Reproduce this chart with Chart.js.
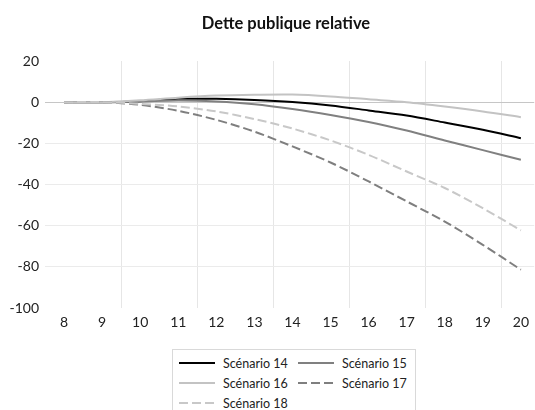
<!DOCTYPE html>
<html>
<head>
<meta charset="utf-8">
<script src="https://cdn.jsdelivr.net/npm/chart.js@4.4.1/dist/chart.umd.min.js"></script>
<style>
    html, body { margin: 0; padding: 0; background: #fff; overflow: hidden; }
    #wrap { position: relative; width: 535px; height: 410px; }
    #legend {
        position: absolute; left: 172px; top: 349px; width: 236px; height: 80px;
        border: 1px solid #d9d9d9; padding: 3px 0 0 6px;
        display: grid; grid-template-columns: 119px 117px; grid-auto-rows: 20px;
        font-family: Lato, sans-serif; font-size: 12.5px; color: #222;
    }
    .item { display: flex; align-items: center; white-space: nowrap; }
    .item svg { margin-right: 8px; }
</style>
</head>
<body>
<div id="wrap">
    <canvas id="debtChart" width="535" height="345"></canvas>
    <div id="legend"></div>
</div>
<script>
// Years on the x axis (8 = 2008 ... 20 = 2020)
const years = [8, 9, 10, 11, 12, 13, 14, 15, 16, 17, 18, 19, 20];
const yTicks = [20, 0, -20, -40, -60, -80, -100];

// Relative public debt per scenario
const scenario14 = [0, 0, 0.5, 1.6, 1.6, 1.1, 0.1, -1.6, -4.0, -6.5, -9.9, -13.4, -17.5];
const scenario15 = [0, 0, 0.3, 0.8, 0.3, -1.0, -3.3, -6.2, -9.6, -13.8, -18.6, -23.3, -28.0];
const scenario16 = [0, 0, 0.9, 2.2, 3.2, 3.6, 3.7, 2.8, 1.4, 0.0, -2.1, -4.5, -7.3];
const scenario17 = [0, 0, -1.3, -4.2, -8.6, -14.3, -21.5, -29.3, -38.5, -48.2, -58.0, -69.3, -81.4];
const scenario18 = [0, 0, -0.8, -2.1, -4.5, -8.2, -12.8, -18.6, -25.6, -33.7, -41.7, -51.5, -62.3];

const toPoints = values => values.map((v, i) => ({ x: years[i], y: v }));

function makeSeries(label, values, color, dash, order) {
    return {
        label: label,
        data: toPoints(values),
        borderColor: color,
        borderWidth: 2,
        borderDash: dash,
        pointRadius: 0,
        tension: 0.3,
        fill: false,
        order: order
    };
}

// Title centred over the plot area
const titlePlugin = {
    id: 'plotTitle',
    afterDraw(chart) {
        const ctx = chart.ctx;
        ctx.save();
        ctx.font = 'bold 16.5px Lato, sans-serif';
        ctx.fillStyle = '#111';
        ctx.textAlign = 'center';
        ctx.textBaseline = 'middle';
        ctx.fillText('Dette publique relative', 286, 24);
        ctx.restore();
    }
};

const ctx = document.getElementById('debtChart').getContext('2d');
const debtChart = new Chart(ctx, {
    type: 'line',
    data: {
        datasets: [
            makeSeries('Scénario 14', scenario14, '#000000', [], 5),
            makeSeries('Scénario 15', scenario15, '#808080', [], 4),
            makeSeries('Scénario 16', scenario16, '#c3c3c3', [], 3),
            makeSeries('Scénario 17', scenario17, '#7f7f7f', [9, 4], 2),
            makeSeries('Scénario 18', scenario18, '#c8c8c8', [9, 4], 1)
        ]
    },
    options: {
        responsive: false,
        animation: false,
        layout: { padding: { top: 61, right: 0, bottom: 0, left: 0 } },
        scales: {
            x: {
                type: 'linear',
                min: 7.5,
                max: 20.35,
                border: { display: false },
                afterFit: scale => { scale.height = 37; },
                grid: {
                    drawTicks: false,
                    color: c => {
                        const v = c.tick ? c.tick.value : 0;
                        return (v >= 9.5 && Math.abs((v - 9.5) % 2) < 1e-6) ? '#e6e6e6' : 'rgba(0,0,0,0)';
                    }
                },
                ticks: {
                    stepSize: 0.5,
                    autoSkip: false,
                    maxRotation: 0,
                    includeBounds: false,
                    padding: 6,
                    color: '#222',
                    font: { family: 'Lato, sans-serif', size: 14 },
                    callback: value => years.includes(value) ? String(value) : ''
                }
            },
            y: {
                min: yTicks[yTicks.length - 1],
                max: yTicks[0],
                border: { display: false },
                afterFit: scale => { scale.width = 45; },
                grid: {
                    drawTicks: false,
                    color: c => {
                        const v = c.tick ? c.tick.value : 0;
                        if (v === 0) return '#c6c6c6';
                        if (v === yTicks[0] || v === yTicks[yTicks.length - 1]) return 'rgba(0,0,0,0)';
                        return '#ebebeb';
                    }
                },
                ticks: {
                    stepSize: 20,
                    padding: 6,
                    color: '#222',
                    font: { family: 'Lato, sans-serif', size: 14 }
                }
            }
        },
        plugins: {
            legend: { display: false },
            title: { display: false },
            tooltip: { enabled: false }
        }
    },
    plugins: [titlePlugin]
});

// Build the boxed legend from the chart datasets (in series order)
const legendEl = document.getElementById('legend');
debtChart.data.datasets.forEach(ds => {
    const item = document.createElement('div');
    item.className = 'item';
    const dash = ds.borderDash.length ? ds.borderDash.join(' ') : 'none';
    item.innerHTML =
        '<svg width="36" height="10"><line x1="0" y1="5" x2="36" y2="5" stroke="' + ds.borderColor +
        '" stroke-width="2" stroke-dasharray="' + dash + '"/></svg><span>' + ds.label + '</span>';
    legendEl.appendChild(item);
});
</script>
</body>
</html>
